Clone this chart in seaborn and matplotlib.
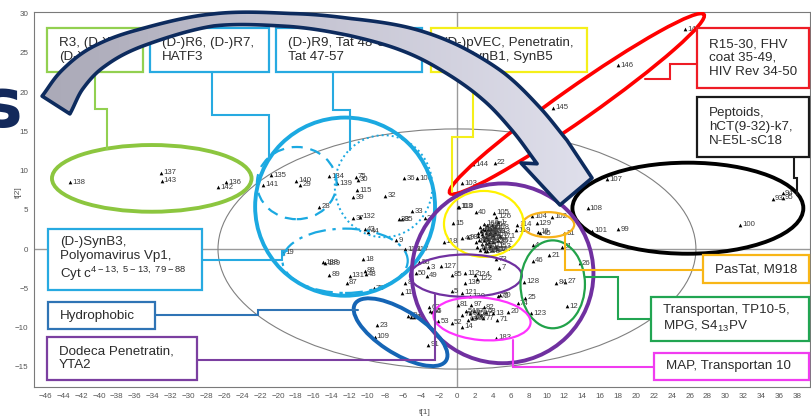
import numpy as np
import pandas as pd
import matplotlib
matplotlib.use("Agg")
import matplotlib.pyplot as plt
import seaborn as sns
from matplotlib.patches import Ellipse, Rectangle, Polygon
from matplotlib.colors import LinearSegmentedColormap

# ---- PCA scores of the peptides (t[1], t[2]) ----
peptide_ids = [
    138, 137, 143, 142, 136, 135, 141, 140, 29, 134, 139, 75, 30, 115, 39, 32, 36, 106,
    28, 33, 37, 132, 38, 35, 2, 43, 44, 9, 116, 117, 19, 18, 188, 189, 89, 131, 87, 88,
    48, 78, 96, 8, 11, 23, 109, 91, 60, 61, 62, 50, 56, 3, 49, 127, 85, 112, 130, 124,
    122, 7, 5, 121, 120, 72, 70, 63, 64, 65, 53, 52, 14, 81, 97, 82, 13, 71, 20, 183,
    54, 55, 57, 58, 59, 66, 67, 68, 69, 77, 79, 128, 84, 27, 25, 74, 123, 12, 46, 21,
    4, 51, 26, 31, 104, 129, 102, 16, 45, 114, 119, 113, 110, 40, 105, 126, 1, 15, 118,
    42, 98, 73, 103, 144, 22, 145, 146, 147, 107, 108, 101, 99, 100, 93, 94, 95,
    6, 10, 17, 24, 34, 41, 47, 76, 80, 83, 86, 90, 92, 111, 125, 133, 148, 149, 150,
    151, 152, 153, 154, 155, 156, 157, 158, 159, 160, 161, 162, 163, 164, 165, 166,
    167, 168, 169, 170, 171,
]
t1 = [
    -43.2, -33.1, -33.0, -26.7, -25.8, -20.8, -21.7, -18.0, -17.5, -14.3, -13.4, -11.3,
    -11.1, -11.2, -11.6, -8.0, -5.9, -4.5, -15.4, -5.0, -11.6, -10.8, -6.5, -6.1, -3.6,
    -10.3, -9.9, -6.8, -5.8, -4.8, -19.4, -10.5, -15.0, -14.7, -14.3, -12.0, -12.3,
    -10.3, -10.2, -9.3, -29.6, -5.8, -6.1, -8.9, -9.2, -3.2, -5.5, -5.1, -4.8, -4.6,
    -4.2, -3.2, -3.4, -1.8, -0.6, 0.9, 0.9, 2.0, 2.2, 4.7, -0.6, 0.6, 1.5, 4.6, 4.8,
    -3.1, -3.0, -2.8, -2.1, -0.6, 0.6, 0.1, 1.6, 3.0, 4.0, 4.5, 5.7, 4.4,
    1.0, 1.5, 1.9, 2.3, 1.7, 2.1, 2.7, 3.2, 1.2, 2.9, 0.6, 7.5, 11.1, 12.1, 7.6, 6.8,
    8.3, 12.3, 8.5, 10.3, 8.5, 11.7, 13.7, 12.0, 8.4, 8.9, 10.6, 9.1, 9.3, 6.7, 6.6,
    0.1, 0.2, 2.1, 4.1, 4.4, 4.6, -0.4, -1.5, 0.6, 1.2, 4.4, 0.6, 1.8, 4.2, 10.7,
    18.0, 25.5, 16.8, 14.6, 15.1, 18.0, 31.6, 35.3, 36.4, 36.4,
    2.3, 2.6, 2.9, 3.1, 3.4, 3.6, 3.8, 4.1, 2.5, 2.8, 3.0, 3.3, 3.5, 3.7, 4.0, 4.3,
    2.2, 2.6, 3.0, 3.4, 3.9, 4.4, 2.7, 3.2, 3.5, 3.9, 4.2, 2.4, 3.0, 4.6, 3.6, 2.9,
    3.3, 4.0, 2.1, 4.5, 3.1, 3.7, 2.8, 4.8,
]
t2 = [
    8.5, 9.7, 8.7, 7.9, 8.5, 9.4, 8.2, 8.7, 8.2, 9.3, 8.4, 9.2, 8.8, 7.5, 6.6, 6.8, 9.0,
    9.0, 5.4, 4.8, 3.9, 4.1, 3.8, 3.8, 3.9, 2.5, 2.2, 1.1, 0.0, 0.0, -0.5, -1.3, -1.7,
    -1.8, -3.3, -3.4, -4.3, -2.8, -3.2, -5.0, -3.7, -4.3, -5.6, -9.7, -11.2, -12.2,
    -8.5, -8.7, -8.7, -3.1, -1.7, -2.3, -3.4, -2.2, -3.3, -3.1, -4.3, -3.3, -3.8, -2.4,
    -5.4, -5.6, -6.0, -6.0, -5.9, -7.4, -7.9, -8.0, -9.2, -9.4, -9.9, -7.1, -7.1, -7.4,
    -8.2, -9.0, -8.0, -11.3,
    -7.9, -8.2, -7.9, -8.2, -8.8, -8.7, -8.4, -8.0, -9.0, -8.8, -8.4, -4.2, -4.3, -4.2,
    -6.2, -6.9, -8.2, -7.3, -1.5, -0.8, 0.5, 0.3, -1.8, 2.0, 4.2, 3.3, 4.1, 2.2, 2.0,
    3.1, 2.4, 5.4, 5.4, 4.7, 4.6, 4.1, 3.4, 3.3, 0.9, 1.4, 1.5, -1.3, 8.4, 10.8, 11.0,
    18.0, 23.4, 28.0, 8.9, 5.2, 2.3, 2.5, 3.1, 6.4, 7.1, 6.5,
    2.1, 2.8, 1.7, 2.4, 3.0, 1.9, 2.6, 1.4, 1.2, 0.6, 1.1, 0.8, 1.3, 0.4, 0.9, 2.2,
    0.2, -0.1, 0.1, -0.2, -0.1, 0.3, 2.3, 2.0, 2.5, 3.1, 2.8, 1.6, 3.2, 1.1, 0.9, 2.6,
    1.5, 1.8, 0.9, 0.0, -0.3, 2.2, 1.9, 1.6,
]

scores = pd.DataFrame({"peptide": peptide_ids, "t1": t1, "t2": t2})

# ---- peptide class annotations ----
class_labels = [
    "R3, (D-)R4,\n(D-)R5",
    "(D-)R6, (D-)R7,\nHATF3",
    "(D-)R9, Tat 48-60,\nTat 47-57",
    "(D-)pVEC, Penetratin,\n(D-)SynB1, SynB5",
    "R15-30, FHV\ncoat 35-49,\nHIV Rev 34-50",
    "Peptoids,\nhCT(9-32)-k7,\nN-E5L-sC18",
    "(D-)SynB3,\nPolyomavirus Vp1,\nCyt c$^{\\mathregular{4-13,\\ 5-13,\\ 79-88}}$",
    "Hydrophobic",
    "Dodeca Penetratin,\nYTA2",
    "PasTat, M918",
    "Transportan, TP10-5,\nMPG, S4$_{\\mathregular{13}}$PV",
    "MAP, Transportan 10",
]

sns.set_theme(style="white")
plt.rcParams["font.family"] = ["Liberation Sans", "DejaVu Sans"]
NARROW = ["Liberation Sans Narrow", "Liberation Sans", "DejaVu Sans"]

fig = plt.figure(figsize=(8.11, 4.18), dpi=100)
ax = fig.add_axes([0.0419, 0.0742, 0.9568, 0.8971])

sns.scatterplot(data=scores, x="t1", y="t2", marker="^", s=7, color="black",
                linewidth=0, legend=False, ax=ax, zorder=3)
for pid, x, y in zip(scores["peptide"], scores["t1"], scores["t2"]):
    ax.annotate(str(pid), (x, y), xytext=(1.6, 0), textcoords="offset points",
                fontsize=5.6, family=NARROW, color="#3a3a3a",
                ha="left", va="center", zorder=3)

ax.set_xlim(-47.26, 39.44)
ax.set_ylim(-17.58, 30.2)
ax.set_xticks(np.arange(-46, 39, 2))
ax.set_xticks(np.arange(-47, 40, 1), minor=True)
ax.set_yticks(np.arange(-15, 31, 5))
ax.set_yticks(np.arange(-17, 31, 1), minor=True)
ax.tick_params(which="both", direction="inout", color="#555555", width=0.6,
               labelsize=5.8, labelcolor="#555555", pad=2)
ax.tick_params(which="major", length=4)
ax.tick_params(which="minor", length=2.5)
for lab in ax.get_xticklabels() + ax.get_yticklabels():
    lab.set_family(NARROW)
for sp in ax.spines.values():
    sp.set_color("#7a7a7a")
    sp.set_linewidth(0.8)
ax.set_xlabel("t[1]", fontsize=6, family=NARROW, color="#555555")
ax.set_ylabel("t[2]", fontsize=6, family=NARROW, color="#555555")
ax.xaxis.set_label_coords(0.504, -0.058)
ax.yaxis.set_label_coords(-0.016, 0.52)

ax.axhline(0, color="#9a9a9a", lw=1.0, zorder=1)
ax.axvline(0, color="#9a9a9a", lw=1.0, zorder=1)

# Hotelling T2 ellipse
ax.add_patch(Ellipse((0, 0), 53.4, 30.6, fill=False, ec="#808080", lw=0.8, zorder=2))

# group ellipses: centre, width, height, angle, colour, linewidth, linestyle
group_shapes = [
    ((-34.1, 9.0), 22.3, 8.5, 0, "#8cc63f", 2.8, "-"),
    ((-12.5, 5.4), 20.1, 22.7, 0, "#1ba9e1", 2.8, "-"),
    ((-17.9, 8.4), 8.9, 9.2, 0, "#1ba9e1", 1.6, (0, (5, 3.5))),
    ((-8.2, 8.0), 10.9, 13.0, 0, "#1ba9e1", 1.4, (0, (1, 1.6))),
    ((-12.5, -1.5), 14.0, 8.2, 0, "#1ba9e1", 1.6, (0, (8, 3, 1.5, 3))),
    ((13.4, 18.5), 36.4, 4.0, 38.8, "#ff0000", 2.6, "-"),
    ((25.8, 5.2), 25.8, 11.6, 0, "#000000", 2.8, "-"),
    ((10.2, 3.1), 5.8, 3.2, 0, "#f7b21b", 1.6, "-"),
    ((3.0, 3.2), 8.9, 8.4, 0, "#fff200", 1.6, "-"),
    ((5.1, -3.1), 20.3, 22.9, 0, "#7030a0", 2.8, "-"),
    ((1.0, -3.4), 12.5, 5.4, 0, "#7030a0", 1.6, "-"),
    ((10.7, -4.5), 7.2, 11.2, 0, "#22a24a", 1.6, "-"),
    ((2.8, -8.9), 10.9, 5.4, -6, "#ff33ff", 1.6, "-"),
    ((-6.3, -10.6), 12.5, 5.3, -37, "#1565b5", 2.8, "-"),
]
for (c, w, h, a, col, lw, ls) in group_shapes:
    ax.add_patch(Ellipse(c, w, h, angle=a, fill=False, ec=col, lw=lw, ls=ls, zorder=4))

# label boxes: (x0, x1, y_top, y_bottom), colour, leader path
box_layout = [
    ((-45.8, -35.1, 28.2, 22.5), "#92d050", [(-40.4, 22.5), (-40.4, 17.8), (-39.1, 17.8), (-39.1, 12.7)]),
    ((-34.3, -21.0, 28.2, 22.5), "#27aae1", [(-27.4, 22.5), (-27.4, 17.1), (-21.0, 17.1), (-21.0, 11.5)]),
    ((-20.2, -3.9, 28.2, 22.5), "#27aae1", [(-13.9, 22.5), (-13.9, 17.7), (-12.0, 17.7), (-12.0, 12.6)]),
    ((-2.9, 14.5, 28.2, 22.5), "#f5ef1a", [(1.8, 22.5), (1.8, 14.3), (-0.6, 14.3), (-0.6, 7.3)]),
    ((26.8, 39.3, 28.2, 20.5), "#ee1c25", [(26.8, 23.6), (23.8, 23.6), (23.8, 21.7), (21.0, 21.7)]),
    ((26.8, 39.3, 19.4, 11.7), "#1a1a1a", [(37.7, 11.7), (37.7, 9.0), (38.0, 9.0), (38.0, 6.9)]),
    ((-45.7, -28.5, 2.5, -5.2), "#27aae1", [(-28.5, -1.4), (-19.6, -1.4), (-19.6, -0.3), (-19.0, -0.3)]),
    ((-45.7, -33.7, -6.8, -10.2), "#2f74b5", [(-33.7, -8.4), (-22.2, -8.4), (-22.2, -7.8), (-11.1, -7.8)]),
    ((-45.8, -29.1, -11.2, -16.7), "#7b3fa0", [(-29.1, -14.1), (-2.5, -14.1), (-2.5, -5.7)]),
    ((27.5, 39.3, -0.8, -4.3), "#f8b617", [(27.5, -2.7), (12.1, -2.7), (12.1, 2.0)]),
    ((21.7, 39.3, -6.1, -11.7), "#21a552", [(21.7, -8.9), (18.0, -8.9), (18.0, -3.6), (14.3, -3.6)]),
    ((22.0, 39.3, -13.2, -16.7), "#f03cf0", [(22.0, -15.0), (6.3, -15.0), (6.3, -11.6)]),
]
for text, ((x0, x1, yt, yb), col, path) in zip(class_labels, box_layout):
    px, py = zip(*path)
    ax.plot(px, py, color=col, lw=1.5, zorder=4, solid_joinstyle="miter")
    ax.add_patch(Rectangle((x0, yb), x1 - x0, yt - yb, fc="white", ec=col,
                           lw=1.6, zorder=5, clip_on=False))
    ax.text(x0 + 1.35, (yt + yb) / 2, text, fontsize=9.6, color="#2b2b2b",
            ha="left", va="center", linespacing=1.2, zorder=6)

# ---- curved overlay arrow (figure pixel space, origin top-left) ----
ov = fig.add_axes([0, 0, 1, 1], facecolor="none")
ov.set_xlim(0, 811)
ov.set_ylim(418, 0)
ov.axis("off")


def catmull_rom(knots, n_per=24):
    """Smooth curve through the knots, plus unit tangents."""
    k = np.asarray(knots, float)
    ext = np.vstack([2 * k[0] - k[1], k, 2 * k[-1] - k[-2]])
    pts, tans = [], []
    s = np.linspace(0, 1, n_per, endpoint=False)[:, None]
    for i in range(1, len(ext) - 2):
        p0, p1, p2, p3 = ext[i - 1], ext[i], ext[i + 1], ext[i + 2]
        m1, m2 = (p2 - p0) / 2, (p3 - p1) / 2
        h00, h10 = 2 * s**3 - 3 * s**2 + 1, s**3 - 2 * s**2 + s
        h01, h11 = -2 * s**3 + 3 * s**2, s**3 - s**2
        pts.append(h00 * p1 + h10 * m1 + h01 * p2 + h11 * m2)
        dh00, dh10 = 6 * s**2 - 6 * s, 3 * s**2 - 4 * s + 1
        dh01, dh11 = -6 * s**2 + 6 * s, 3 * s**2 - 2 * s
        tans.append(dh00 * p1 + dh10 * m1 + dh01 * p2 + dh11 * m2)
    pts.append(k[-1:])
    tans.append((k[-1] - k[-2])[None, :])
    P, D = np.vstack(pts), np.vstack(tans)
    return P, D / np.linalg.norm(D, axis=1, keepdims=True)


spine_knots = [(56, 105), (72, 80), (98, 57), (140, 38), (213, 20), (290, 20),
               (350, 27), (405, 39), (450, 58), (493, 86), (526, 119), (552, 152)]
spine_width = [33, 28, 23, 17, 12, 13, 17, 24, 30, 34, 36, 38]
centre, d = catmull_rom(spine_knots)
u = np.linspace(0, 1, len(centre))
width = np.interp(u, np.linspace(0, 1, len(spine_width)), spine_width)
nrm = np.column_stack([d[:, 1], -d[:, 0]])
outer = centre + nrm * width[:, None] / 2
inner = centre - nrm * width[:, None] / 2
head = np.array([[592, 178], [560, 205], [521, 163]])
arrow_pts = np.vstack([outer, head, inner[::-1]])

grad = np.linspace(0, 1, 256).reshape(1, -1)
cmap = LinearSegmentedColormap.from_list("band", ["#a9a8b6", "#c6c5d3", "#e0e0ec"])
im = ov.imshow(grad, extent=[30, 600, 215, 0], cmap=cmap, aspect="auto", zorder=7)
im.set_clip_path(Polygon(arrow_pts, closed=True, transform=ov.transData))
ov.add_patch(Polygon(arrow_pts, closed=True, fc="none", ec="#0d2b5e", lw=2.6,
                     joinstyle="round", zorder=8))

ov.text(-18, 127, "s", fontsize=48, fontweight="bold", color="#13295b",
        family="DejaVu Sans", ha="left", va="baseline", zorder=8)

fig.savefig("out.png", dpi=100)
